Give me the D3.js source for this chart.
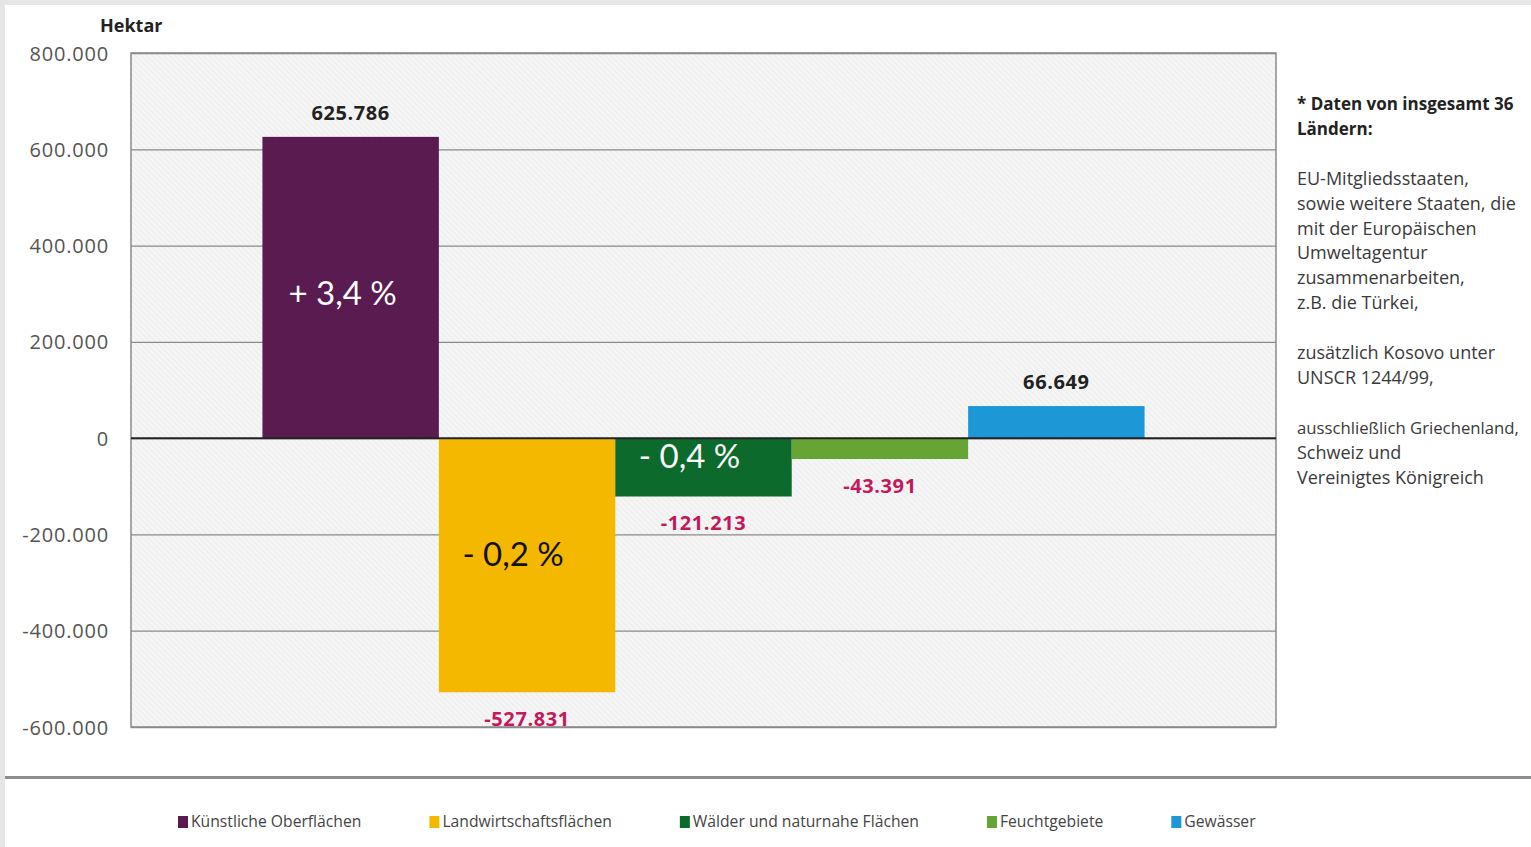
<!DOCTYPE html>
<html>
<head>
<meta charset="utf-8">
<script src="https://cdn.jsdelivr.net/npm/d3@7"></script>
<style>
  html, body { margin: 0; padding: 0; background: #fff; }
  svg { display: block; }
</style>
</head>
<body>
<svg id="chart" width="1531" height="847"></svg>
<script>
// Land cover change in hectares by class
const categories = ["Künstliche Oberflächen", "Landwirtschaftsflächen", "Wälder und naturnahe Flächen", "Feuchtgebiete", "Gewässer"];
const values = [625786, -527831, -121213, -43391, 66649];
const valueLabels = ["625.786", "-527.831", "-121.213", "-43.391", "66.649"];
const percentLabels = ["+ 3,4 %", "- 0,2 %", "- 0,4 %", "", ""];
const colors = ["#5a1b50", "#f5b800", "#0b6a2c", "#64a535", "#1b98d5"];
const percentColors = ["#ffffff", "#111111", "#ffffff", "#ffffff", "#ffffff"];
const yTicks = [800000, 600000, 400000, 200000, 0, -200000, -400000, -600000];
const yTickLabels = ["800.000", "600.000", "400.000", "200.000", "0", "-200.000", "-400.000", "-600.000"];
const noteLines = [
  ["* Daten von insgesamt 36", true],
  ["Ländern:", true],
  ["", false],
  ["EU-Mitgliedsstaaten,", false],
  ["sowie weitere Staaten, die", false],
  ["mit der Europäischen", false],
  ["Umweltagentur", false],
  ["zusammenarbeiten,", false],
  ["z.B.  die Türkei,", false],
  ["", false],
  ["zusätzlich Kosovo unter", false],
  ["UNSCR 1244/99,", false],
  ["", false],
  ["ausschließlich Griechenland,", false],
  ["Schweiz und", false],
  ["Vereinigtes Königreich", false]
];

const svg = d3.select("#chart");
const W = 1531, H = 847;
const plot = { left: 131, right: 1276, top: 53, bottom: 727 };
const font = "'Open Sans', 'Noto Sans', sans-serif";

// page frame: light grey strip on top and left
svg.append("rect").attr("x", 0).attr("y", 0).attr("width", W).attr("height", H).attr("fill", "#e5e5e5");
svg.append("rect").attr("x", 5).attr("y", 5).attr("width", W - 5).attr("height", H - 5).attr("fill", "#ffffff");

// hatched plot background
const defs = svg.append("defs");
const pat = defs.append("pattern")
  .attr("id", "hatch").attr("patternUnits", "userSpaceOnUse")
  .attr("width", 4).attr("height", 4)
  .attr("patternTransform", "rotate(-45)");
pat.append("rect").attr("width", 4).attr("height", 4).attr("fill", "#f5f5f5");
pat.append("line").attr("x1", 0).attr("y1", 0).attr("x2", 0).attr("y2", 4)
  .attr("stroke", "#e7e7e7").attr("stroke-width", 1.2);

const y = d3.scaleLinear().domain([-600000, 800000]).range([plot.bottom, plot.top]);
const x = d3.scaleBand().domain(categories)
  .range([plot.left, plot.right]).paddingInner(0).paddingOuter(0.745);

svg.append("rect")
  .attr("x", plot.left).attr("y", plot.top)
  .attr("width", plot.right - plot.left).attr("height", plot.bottom - plot.top)
  .attr("fill", "url(#hatch)");

// gridlines and tick labels
const yAxis = d3.axisLeft(y).tickValues(yTicks)
  .tickSize(-(plot.right - plot.left))
  .tickFormat((d, i) => yTickLabels[i]);
const gAxis = svg.append("g").attr("transform", `translate(${plot.left},0)`).call(yAxis);
gAxis.select(".domain").remove();
gAxis.selectAll(".tick line").attr("stroke", "#8a8a8a").attr("stroke-width", 1.3);
gAxis.selectAll(".tick text")
  .attr("x", -22).attr("dy", "0.35em")
  .attr("fill", "#555").attr("font-family", font).attr("font-size", 20)
  .attr("letter-spacing", "0.8px");

// plot frame
svg.append("rect")
  .attr("x", plot.left).attr("y", plot.top)
  .attr("width", plot.right - plot.left).attr("height", plot.bottom - plot.top)
  .attr("fill", "none").attr("stroke", "#8a8a8a").attr("stroke-width", 1.5);

// bars
svg.append("g").selectAll("rect").data(values).join("rect")
  .attr("x", (d, i) => x(categories[i]))
  .attr("width", x.bandwidth())
  .attr("y", d => y(Math.max(0, d)))
  .attr("height", d => Math.abs(y(d) - y(0)))
  .attr("fill", (d, i) => colors[i]);

// zero line
svg.append("line")
  .attr("x1", plot.left).attr("x2", plot.right)
  .attr("y1", y(0)).attr("y2", y(0))
  .attr("stroke", "#222").attr("stroke-width", 2);

// value labels
svg.append("g").selectAll("text").data(values).join("text")
  .attr("x", (d, i) => x(categories[i]) + x.bandwidth() / 2)
  .attr("y", d => d >= 0 ? y(d) - 17 : y(d) + 34)
  .attr("text-anchor", "middle")
  .attr("font-family", font).attr("font-weight", "bold").attr("font-size", 20)
  .attr("letter-spacing", "0.6px")
  .attr("fill", d => d >= 0 ? "#222" : "#c4185a")
  .text((d, i) => valueLabels[i]);

// percentage labels inside bars
svg.append("g").selectAll("text").data(values).join("text")
  .attr("x", (d, i) => x(categories[i]) + x.bandwidth() / 2 - (d >= 0 ? 8 : 14))
  .attr("y", d => (y(d) + y(0)) / 2 + (d >= 0 ? 17 : 1))
  .attr("text-anchor", "middle")
  .attr("font-family", "Lato, 'Open Sans', sans-serif").attr("font-size", 33)
  .attr("fill", (d, i) => percentColors[i])
  .text((d, i) => percentLabels[i]);

// unit label
svg.append("text").attr("x", 100).attr("y", 32)
  .attr("font-family", font).attr("font-weight", "bold").attr("font-size", 18)
  .attr("fill", "#222").text("Hektar");

// side note, each line kept inside the page width
const note = svg.append("g").attr("font-family", font).attr("fill", "#333");
const noteX = 1297, noteMaxW = W - noteX - 12;
noteLines.forEach(([t, bold], i) => {
  if (!t) return;
  const tx = note.append("text").attr("x", noteX).attr("y", 110 + i * 24.9)
    .attr("font-weight", bold ? "bold" : "normal")
    .attr("font-size", bold ? 17 : 18)
    .attr("fill", bold ? "#222" : "#3a3a3a")
    .text(t);
  const len = tx.node().getComputedTextLength();
  if (len > noteMaxW) {
    tx.attr("font-size", 18 * noteMaxW / len);
  }
});

// divider above legend
svg.append("line").attr("x1", 5).attr("x2", W).attr("y1", 777.5).attr("y2", 777.5)
  .attr("stroke", "#8c8c8c").attr("stroke-width", 3);

// legend laid out left to right
const legend = svg.append("g");
let lx = 178;
categories.forEach((c, i) => {
  legend.append("rect").attr("x", lx).attr("y", 816).attr("width", 10).attr("height", 12)
    .attr("fill", colors[i]);
  const t = legend.append("text").attr("x", lx + 13).attr("y", 827)
    .attr("font-family", font).attr("font-size", 15.7).attr("fill", "#444")
    .text(c);
  lx += 13 + t.node().getComputedTextLength() + 68;
});
</script>
</body>
</html>
